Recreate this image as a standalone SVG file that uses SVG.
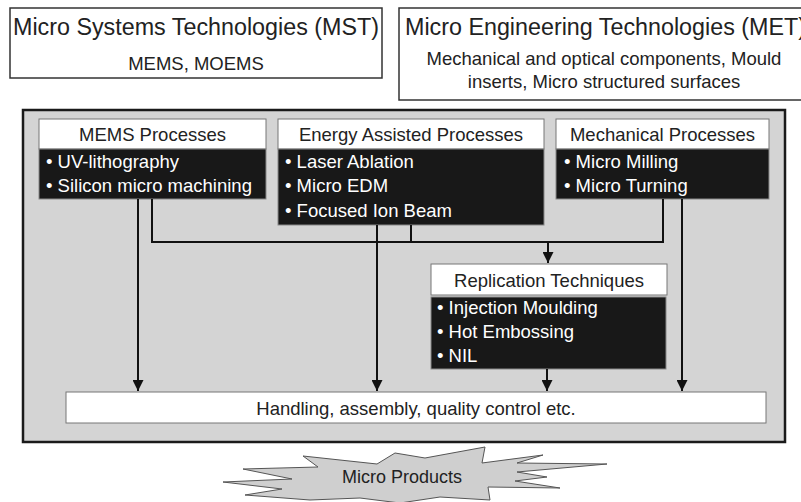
<svg xmlns="http://www.w3.org/2000/svg" width="801" height="502" viewBox="0 0 801 502">
<defs>
<marker id="arr" viewBox="0 0 10 10" refX="10" refY="5" markerWidth="5.5" markerHeight="5.5" orient="auto" markerUnits="strokeWidth">
<path d="M0,0 L10,5 L0,10 z" fill="#111"/>
</marker>
<style>
text{font-family:"Liberation Sans",Arial,sans-serif;fill:#222}
.tb{fill:#fff;stroke:#333;stroke-width:1.5}
.hd{fill:#fff;stroke:#777;stroke-width:1}
.bd{fill:#181818;stroke:#888;stroke-width:1}
.big{font-size:23.3px}
.md{font-size:18.5px}
.c{text-anchor:middle}
.w{fill:#fff}
.ln{fill:none;stroke:#111;stroke-width:2}
</style>
</defs>
<rect width="801" height="502" fill="#fff"/>

<g id="mst">
<rect class="tb" x="10" y="8" width="372" height="70"/>
<text class="big c" x="196" y="35">Micro Systems Technologies (MST)</text>
<text class="md c" x="196" y="70">MEMS, MOEMS</text>
</g>

<g id="met">
<rect class="tb" x="399" y="8" width="410" height="92"/>
<text class="big" x="405" y="35">Micro Engineering Technologies (MET)</text>
<text class="md c" x="604" y="65">Mechanical and optical components, Mould</text>
<text class="md c" x="604" y="88">inserts, Micro structured surfaces</text>
</g>

<g id="frame">
<rect x="23" y="110" width="762" height="332" fill="#d4d4d4" stroke="#1a1a1a" stroke-width="2.5"/>
</g>

<g id="mems">
<rect class="hd" x="39" y="119" width="227" height="30"/>
<text class="md c" x="152.5" y="141">MEMS Processes</text>
<rect class="bd" x="39" y="149" width="227" height="50"/>
<text class="md w" x="46" y="168">• UV-lithography</text>
<text class="md w" x="46" y="192">• Silicon micro machining</text>
</g>

<g id="energy">
<rect class="hd" x="278" y="119" width="266" height="30"/>
<text class="md c" x="411" y="141">Energy Assisted Processes</text>
<rect class="bd" x="278" y="149" width="266" height="76"/>
<text class="md w" x="285" y="168">• Laser Ablation</text>
<text class="md w" x="285" y="192">• Micro EDM</text>
<text class="md w" x="285" y="217">• Focused Ion Beam</text>
</g>

<g id="mech">
<rect class="hd" x="556" y="119" width="213" height="30"/>
<text class="md c" x="662.5" y="141">Mechanical Processes</text>
<rect class="bd" x="556" y="149" width="213" height="50"/>
<text class="md w" x="564" y="168">• Micro Milling</text>
<text class="md w" x="564" y="192">• Micro Turning</text>
</g>

<g id="replication">
<rect class="hd" x="431" y="264" width="236" height="31"/>
<text class="md c" x="549" y="287">Replication Techniques</text>
<rect class="bd" x="431" y="297" width="235" height="72"/>
<text class="md w" x="437" y="314">• Injection Moulding</text>
<text class="md w" x="437" y="338">• Hot Embossing</text>
<text class="md w" x="437" y="362">• NIL</text>
</g>

<g id="handling">
<rect class="hd" x="66" y="392" width="700" height="31" stroke="#666"/>
<text class="md c" x="416" y="415">Handling, assembly, quality control etc.</text>
</g>

<g id="connectors">
<path class="ln" d="M138,199 V391" marker-end="url(#arr)"/>
<path class="ln" d="M152,199 V242 H663 V199"/>
<path class="ln" d="M411,225 V242"/>
<path class="ln" d="M377,225 V391" marker-end="url(#arr)"/>
<path class="ln" d="M682,199 V391" marker-end="url(#arr)"/>
<path class="ln" d="M548,242 V263" marker-end="url(#arr)"/>
<path class="ln" d="M547,369 V391" marker-end="url(#arr)"/>
</g>

<g id="products">
<polygon points="303,456 377,464 395,453 425,458 485,447 482,463 543,455 517,463 607,464 517,472 547,477 515,481 560,488 488,487 490,500 440,497 400,503 360,498 310,500 245,495 282,489 223,482 292,479 243,469 318,467" fill="#cfcfcf" stroke="#555" stroke-width="1"/>
<text class="c" x="402" y="483" font-size="18">Micro Products</text>
</g>
</svg>
